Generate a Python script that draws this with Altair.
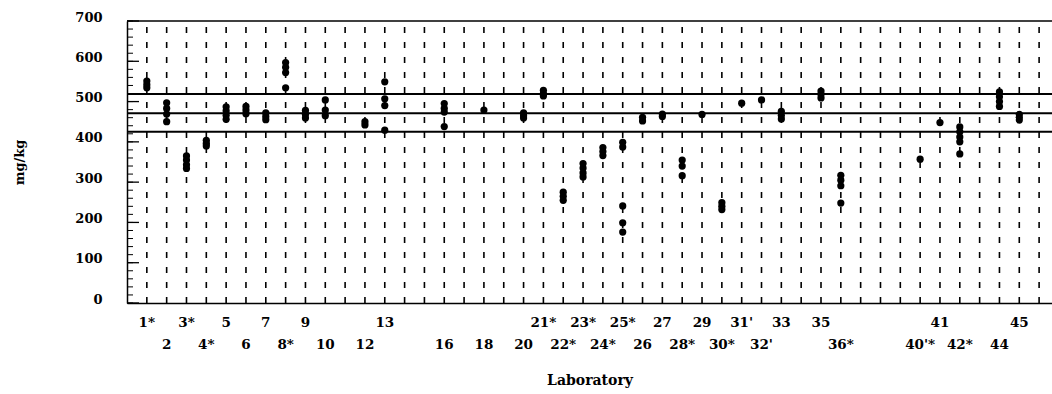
import altair as alt
import pandas as pd

# ---- data ----
lab_ids = [1, 2, 3, 4, 5, 6, 7, 8, 9, 10, 12, 13, 16, 18, 20, 21, 22, 23, 24, 25,
           26, 27, 28, 29, 30, 31, 32, 33, 35, 36, 40, 41, 42, 44, 45]
lab_results = [
    [551, 542, 534],            # 1
    [497, 483, 469, 450],       # 2
    [365, 355, 343, 334],       # 3
    [404, 396, 390],            # 4
    [487, 477, 466, 456],       # 5
    [488, 479, 470],            # 6
    [472, 463, 455],            # 7
    [597, 585, 572, 534],       # 8
    [478, 468, 459],            # 9
    [504, 479, 465],            # 10
    [450, 442],                 # 12
    [549, 507, 490, 429],       # 13
    [495, 483, 474, 438],       # 16
    [479],                      # 18
    [472, 465, 459],            # 20
    [528, 520, 514],            # 21
    [275, 265, 255],            # 22
    [346, 335, 323, 313],       # 23
    [386, 376, 366],            # 24
    [399, 387, 241, 199, 176],  # 25
    [461, 452],                 # 26
    [469, 463],                 # 27
    [355, 340, 316],            # 28
    [468],                      # 29
    [249, 240, 232],            # 30
    [496],                      # 31
    [504],                      # 32
    [476, 466, 457],            # 33
    [526, 518, 509],            # 35
    [317, 305, 291, 248],       # 36
    [357],                      # 40
    [448],                      # 41
    [437, 425, 412, 400, 370],  # 42
    [524, 512, 500, 488],       # 44
    [468, 461, 454],            # 45
]

ref_lines = [519, 471, 425]          # upper limit, mean, lower limit
frame_top = [700]
grid_positions = list(range(1, 47))  # dashed vertical guide per laboratory
y_domain = [0, 700]

top_row_labs = [1, 3, 5, 7, 9, 13, 21, 23, 25, 27, 29, 31, 33, 35, 41, 45]
top_row_text = ["1*", "3*", "5", "7", "9", "13", "21*", "23*", "25*", "27", "29",
                "31'", "33", "35", "41", "45"]
bottom_row_labs = [2, 4, 6, 8, 10, 12, 16, 18, 20, 22, 24, 26, 28, 30, 32, 36, 40, 42, 44]
bottom_row_text = ["2", "4*", "6", "8*", "10", "12", "16", "18", "20", "22*", "24*",
                   "26", "28*", "30*", "32'", "36*", "40'*", "42*", "44"]

y_labels = list(range(0, 701, 100))
y_minor = list(range(0, 701, 20))

# ---- tables ----
pts = pd.DataFrame([{"lab": l, "value": v} for l, vs in zip(lab_ids, lab_results) for v in vs])
grid_df = pd.DataFrame({"pos": grid_positions, "y0": y_domain[0], "y1": y_domain[1]})
ref_df = pd.DataFrame({"ref": ref_lines})
frame_df = pd.DataFrame({"ref": frame_top})
top_df = pd.DataFrame({"lab": top_row_labs, "txt": top_row_text})
bot_df = pd.DataFrame({"lab": bottom_row_labs, "txt": bottom_row_text})
minor_df = pd.DataFrame({"t": y_minor})
major_df = pd.DataFrame({"t": y_labels})

FONT = "DejaVu Serif"
xs = alt.Scale(domain=[0, 46.65], nice=False, zero=False)
ys = alt.Scale(domain=y_domain, nice=False)

x_axis = alt.Axis(
    title="Laboratory", labels=False, ticks=False, grid=False,
    domainColor="black", domainWidth=1.5, titlePadding=70,
    titleFont=FONT, titleFontSize=14, titleFontWeight="bold", titleColor="black")
y_axis = alt.Axis(
    title="mg/kg", values=y_labels, ticks=False, grid=False,
    labelPadding=25, labelOffset=-4, labelFont=FONT, labelFontSize=13,
    labelFontWeight="bold", labelColor="black",
    domainColor="black", domainWidth=1.5,
    titleFont=FONT, titleFontSize=13, titleFontWeight="bold", titleColor="black",
    titleAngle=270, titleX=-108, titleY=141, titleAlign="center", titleBaseline="middle")

grid = alt.Chart(grid_df).mark_rule(color="black", strokeWidth=1.6, strokeDash=[6, 9]).encode(
    x=alt.X("pos:Q", scale=xs, axis=x_axis),
    y=alt.Y("y0:Q", scale=ys, axis=y_axis),
    y2="y1:Q",
)

refs = alt.Chart(ref_df).mark_rule(color="black", strokeWidth=2).encode(
    y=alt.Y("ref:Q", scale=ys, axis=y_axis),
)

top_frame = alt.Chart(frame_df).mark_rule(color="black", strokeWidth=1.5).encode(
    y=alt.Y("ref:Q", scale=ys, axis=y_axis),
)

minor_ticks = alt.Chart(minor_df).mark_rule(color="black", strokeWidth=1).encode(
    y=alt.Y("t:Q", scale=ys, axis=y_axis),
    x=alt.value(0),
    x2=alt.value(6),
)
major_ticks = alt.Chart(major_df).mark_rule(color="black", strokeWidth=1.3).encode(
    y=alt.Y("t:Q", scale=ys, axis=y_axis),
    x=alt.value(0),
    x2=alt.value(12),
)

points = alt.Chart(pts).mark_circle(color="black", size=52, opacity=1).encode(
    x=alt.X("lab:Q", scale=xs, axis=x_axis),
    y=alt.Y("value:Q", scale=ys, axis=y_axis),
)

top_text = alt.Chart(top_df).mark_text(font=FONT, fontSize=13.5, fontWeight="bold",
                                       color="black", baseline="middle").encode(
    x=alt.X("lab:Q", scale=xs, axis=x_axis),
    y=alt.value(302),
    text="txt:N",
)
bot_text = alt.Chart(bot_df).mark_text(font=FONT, fontSize=13.5, fontWeight="bold",
                                       color="black", baseline="middle").encode(
    x=alt.X("lab:Q", scale=xs, axis=x_axis),
    y=alt.value(324),
    text="txt:N",
)

chart = alt.layer(grid, refs, top_frame, minor_ticks, major_ticks, points, top_text, bot_text).properties(
    width=925, height=282,
    padding={"left": 127, "top": 21, "right": 0, "bottom": 90},
    autosize=alt.AutoSizeParams(type="none"),
    background="white",
).configure_view(strokeWidth=0)

chart.save("out.html", embed_options={"renderer": "svg", "actions": False})
